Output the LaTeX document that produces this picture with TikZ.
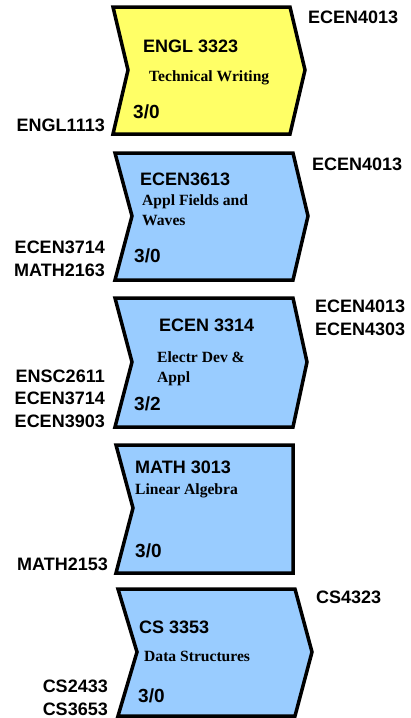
\documentclass[tikz,border=0pt]{standalone}
\usepackage{fontspec}
\setmainfont{Liberation Serif}
\setsansfont{Liberation Sans}
\definecolor{engyellow}{RGB}{255,255,102}
\definecolor{engblue}{RGB}{153,204,255}

\begin{document}
\begin{tikzpicture}[x=1pt, y=-1pt,
    course/.style={draw, line width=3.5pt, line join=miter},
    code/.style={font=\sffamily\bfseries\fontsize{18}{22.5}\selectfont, inner sep=0pt, anchor=base west},
    title/.style={font=\rmfamily\bfseries\fontsize{15.6}{20}\selectfont, inner sep=0pt, anchor=base west, align=left},
    hours/.style={font=\sffamily\bfseries\fontsize{19}{22}\selectfont, inner sep=0pt, anchor=base west},
    pre/.style={code, anchor=base east, align=right},
    post/.style={code, align=left}]
    \useasboundingbox (0,0) rectangle (410,718);

    % ENGL 3323
    \draw[course, fill=engyellow] (113,7) -- (290,7) -- (305,70) -- (290,134) -- (113,134) -- (128,70) -- cycle;
    \node[code] (engl) at (143,52) {ENGL 3323};
    \node[title] (englname) at (149,81) {Technical Writing};
    \node[hours] (englhrs) at (133,118) {3/0};
    \node[pre] (englpre) at (105,131) {ENGL1113};
    \node[post] (englpost) at (308,23) {ECEN4013};

    % ECEN3613 (multi-line nodes sit on their last baseline)
    \draw[course, fill=engblue] (115,153) -- (293,153) -- (308,216) -- (293,280) -- (115,280) -- (132,216) -- cycle;
    \node[code] (fields) at (140,185) {ECEN3613};
    \node[title] (fieldsname) at (142,225) {Appl Fields and\\Waves};
    \node[hours] (fieldshrs) at (134,262) {3/0};
    \node[pre] (fieldspre) at (105,276) {ECEN3714\\MATH2163};
    \node[post] (fieldspost) at (312,170) {ECEN4013};

    % ECEN 3314
    \draw[course, fill=engblue] (115,298) -- (293,298) -- (307,362) -- (293,427) -- (115,427) -- (132,362) -- cycle;
    \node[code] (devices) at (159,331) {ECEN 3314};
    \node[title] (devicesname) at (157,382) {Electr Dev \&\\Appl};
    \node[hours] (deviceshrs) at (134,410) {3/2};
    \node[pre] (devicespre) at (105,427) {ENSC2611\\ECEN3714\\ECEN3903};
    \node[post] (devicespost) at (315,335) {ECEN4013\\ECEN4303};

    % MATH 3013
    \draw[course, fill=engblue] (116,445) -- (293,445) -- (293,573) -- (116,573) -- (133,508) -- cycle;
    \node[code] (linalg) at (135,473) {MATH 3013};
    \node[title] (linalgname) at (135,494) {Linear Algebra};
    \node[hours] (linalghrs) at (135,557) {3/0};
    \node[pre] (linalgpre) at (108,570) {MATH2153};

    % CS 3353
    \draw[course, fill=engblue] (118,589) -- (295,589) -- (312,652) -- (295,716) -- (118,716) -- (137,652) -- cycle;
    \node[code] (data) at (139,633) {CS 3353};
    \node[title] (dataname) at (144,661) {Data Structures};
    \node[hours] (datahrs) at (138,702) {3/0};
    \node[pre] (datapre) at (108,715) {CS2433\\CS3653};
    \node[post] (datapost) at (316,603) {CS4323};
\end{tikzpicture}
\end{document}
